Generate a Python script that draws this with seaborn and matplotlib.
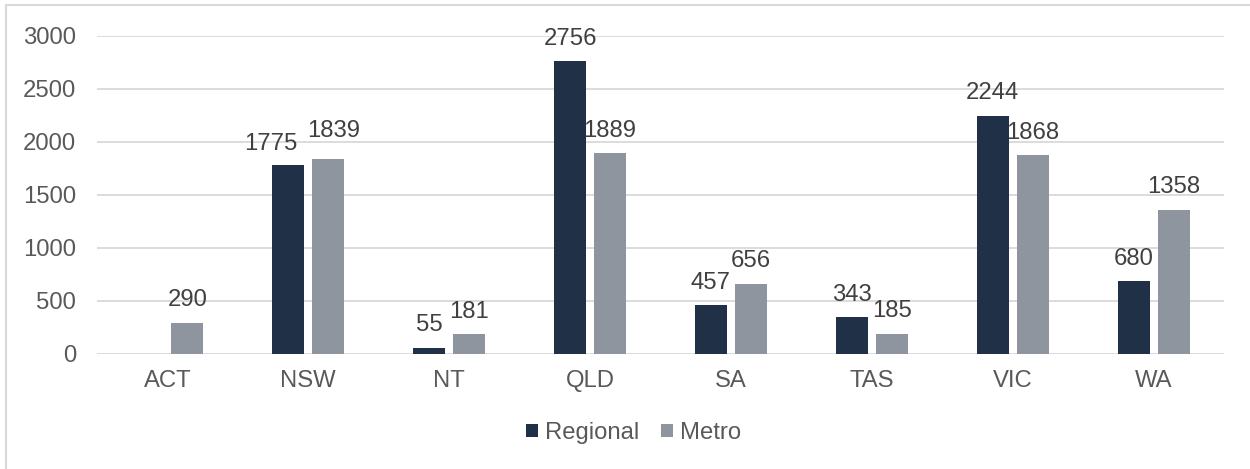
import matplotlib
matplotlib.use("Agg")
import matplotlib.pyplot as plt
from matplotlib.patches import Patch, Rectangle
import numpy as np
import pandas as pd
import seaborn as sns

# Counts by state, split into regional and metropolitan
states = ["ACT", "NSW", "NT", "QLD", "SA", "TAS", "VIC", "WA"]
regional = [np.nan, 1775, 55, 2756, 457, 343, 2244, 680]
metro = [290, 1839, 181, 1889, 656, 185, 1868, 1358]
series_names = ["Regional", "Metro"]
y_ticks = [0, 500, 1000, 1500, 2000, 2500, 3000]

colors = {"Regional": "#203046", "Metro": "#8e959f"}
TEXT = "#595959"
LABEL = "#404040"
GRID = "#d9d9d9"
FS = 17.2

df = pd.DataFrame({
    "State": states * 2,
    "Series": ["Regional"] * len(states) + ["Metro"] * len(states),
    "Value": regional + metro,
})

sns.set_style("white")
plt.rcParams["font.family"] = ["Liberation Sans", "DejaVu Sans"]

W, H = 1250, 469
fig = plt.figure(figsize=(W / 100, H / 100), dpi=100)
ax = fig.add_axes([97 / W, 1 - 353.5 / H, (1224 - 97) / W, (353.5 - 35.5) / H])

sns.barplot(data=df, x="State", y="Value", hue="Series", hue_order=series_names,
            order=states, palette=colors, width=0.567, gap=0.2,
            saturation=1, ax=ax, legend=False, errorbar=None, edgecolor="none")

ax.set_ylim(0, 3000)
ax.set_xlim(-0.5, len(states) - 0.5)
ax.set_yticks(y_ticks)
ax.set_xlabel("")
ax.set_ylabel("")
ax.yaxis.grid(True, color=GRID, linewidth=1.3)
ax.set_axisbelow(True)
for s in ax.spines.values():
    s.set_visible(False)
ax.tick_params(axis="both", length=0, labelsize=FS, labelcolor=TEXT)
ax.tick_params(axis="y", pad=15)
ax.tick_params(axis="x", pad=12)

# Value labels above each bar; a couple nudged apart where they would collide
nudge = {("NSW", "Regional"): (-18, -1.5), ("NSW", "Metro"): (5, 5)}
for container, name in zip(ax.containers, series_names):
    for bar in container:
        v = bar.get_height()
        if np.isnan(v):
            continue
        cx = bar.get_x() + bar.get_width() / 2
        st = states[int(round(cx))]
        dx, dy = nudge.get((st, name), (0, 0))
        ax.annotate(f"{int(round(v))}", (cx, v),
                    xytext=(dx * 0.72, (16.5 + dy) * 0.72), textcoords="offset points",
                    ha="center", va="baseline", fontsize=FS, color=LABEL)

handles = [Patch(facecolor=colors[n], edgecolor="none", label=n) for n in series_names]
leg = fig.legend(handles=handles, loc="center", bbox_to_anchor=(633.5 / W, 1 - 433 / H),
                 ncol=2, frameon=False, fontsize=FS, handlelength=0.52,
                 handleheight=0.52, handletextpad=0.28, columnspacing=0.9)
for t in leg.get_texts():
    t.set_color(TEXT)

# Outer chart frame
fig.patches.append(Rectangle((5.5 / W, -0.1), 1.2, 1.1 - 5.5 / H, transform=fig.transFigure,
                             fill=False, edgecolor=GRID, linewidth=1.5))

fig.savefig("out.png", dpi=100)
